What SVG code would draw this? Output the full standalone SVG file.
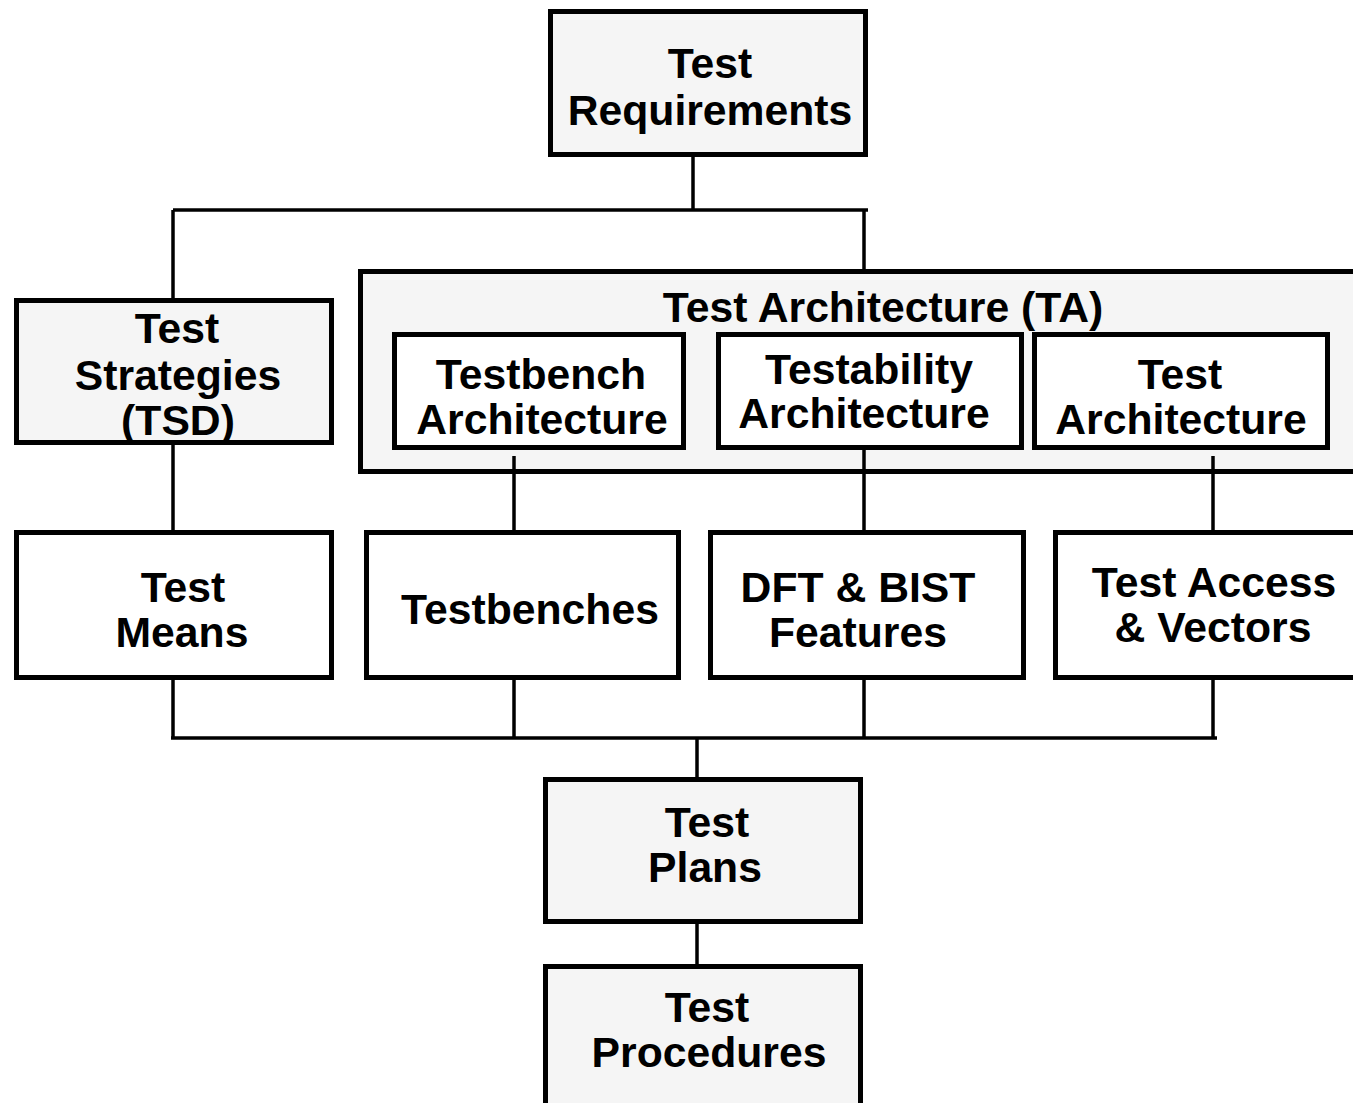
<svg xmlns="http://www.w3.org/2000/svg" width="1353" height="1103" viewBox="0 0 1353 1103">
<style>
.box{stroke:#000;stroke-width:5;}
.g{fill:#f5f5f5;}
.w{fill:#fff;}
.c{stroke:#000;stroke-width:3.5;fill:none;}
text{font-family:"Liberation Sans",Arial,sans-serif;font-weight:bold;font-size:42.7px;text-anchor:middle;fill:#000;}
</style>
<rect width="1353" height="1103" fill="#fff"/>
<g id="test-requirements">
<rect class="box g" x="550.5" y="11.5" width="315" height="143"/>
<text x="710" y="78">Test</text>
<text x="710" y="125">Requirements</text>
</g>
<g id="test-strategies">
<rect class="box g" x="16.5" y="300.5" width="315" height="142"/>
<text x="177" y="343">Test</text>
<text x="178" y="390">Strategies</text>
<text x="178" y="435">(TSD)</text>
</g>
<g id="test-architecture-ta">
<rect class="box g" x="360.5" y="271.5" width="1000" height="200"/>
<text x="883" y="322">Test Architecture (TA)</text>
</g>
<g id="testbench-architecture">
<rect class="box w" x="394.5" y="334.5" width="289" height="113"/>
<text x="541" y="389">Testbench</text>
<text x="542" y="434">Architecture</text>
</g>
<g id="testability-architecture">
<rect class="box w" x="718.5" y="334.5" width="303" height="113"/>
<text x="869" y="384">Testability</text>
<text x="864" y="428">Architecture</text>
</g>
<g id="test-architecture">
<rect class="box w" x="1034.5" y="334.5" width="293" height="113"/>
<text x="1180" y="389">Test</text>
<text x="1181" y="434">Architecture</text>
</g>
<g id="test-means">
<rect class="box w" x="16.5" y="532.5" width="315" height="145"/>
<text x="183" y="602">Test</text>
<text x="182" y="647">Means</text>
</g>
<g id="testbenches">
<rect class="box w" x="366.5" y="532.5" width="312" height="145"/>
<text x="530" y="624">Testbenches</text>
</g>
<g id="dft-bist">
<rect class="box w" x="710.5" y="532.5" width="313" height="145"/>
<text x="858" y="602">DFT &amp; BIST</text>
<text x="858" y="647">Features</text>
</g>
<g id="test-access">
<rect class="box w" x="1055.5" y="532.5" width="400" height="145"/>
<text x="1214" y="597">Test Access</text>
<text x="1213" y="642">&amp; Vectors</text>
</g>
<g id="test-plans">
<rect class="box g" x="545.5" y="779.5" width="315" height="142"/>
<text x="707" y="837">Test</text>
<text x="705" y="882">Plans</text>
</g>
<g id="test-procedures">
<rect class="box g" x="545.5" y="966.5" width="315" height="200"/>
<text x="707" y="1022">Test</text>
<text x="709" y="1067">Procedures</text>
</g>
<g id="connectors">
<line class="c" x1="693" y1="157" x2="693" y2="210"/>
<line class="c" x1="173" y1="210" x2="868" y2="210"/>
<line class="c" x1="173" y1="210" x2="173" y2="298"/>
<line class="c" x1="864" y1="210" x2="864" y2="269"/>
<line class="c" x1="173" y1="445" x2="173" y2="530"/>
<line class="c" x1="514" y1="456" x2="514" y2="530"/>
<line class="c" x1="864" y1="450" x2="864" y2="530"/>
<line class="c" x1="1213" y1="456" x2="1213" y2="530"/>
<line class="c" x1="173" y1="680" x2="173" y2="738"/>
<line class="c" x1="514" y1="680" x2="514" y2="738"/>
<line class="c" x1="864" y1="680" x2="864" y2="738"/>
<line class="c" x1="1213" y1="680" x2="1213" y2="738"/>
<line class="c" x1="171" y1="738" x2="1217" y2="738"/>
<line class="c" x1="697" y1="738" x2="697" y2="777"/>
<line class="c" x1="697" y1="924" x2="697" y2="964"/>
</g>
</svg>
